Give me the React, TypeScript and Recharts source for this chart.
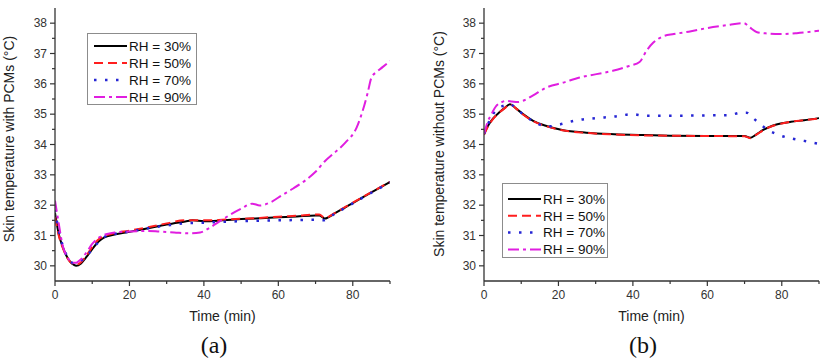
import React from "react";
import { LineChart, Line, XAxis, YAxis, Legend } from "recharts";

const SANS = "'Liberation Sans', Arial, Helvetica, sans-serif";
const SERIF = "'Liberation Serif', 'Times New Roman', serif";
const AXIS_COLOR = "#333333";

// (a) skin temperature with PCMs, time in min, temperature in °C
const timeA30 = [0, 1, 2, 3, 4, 5, 5.7, 7, 8.5, 10, 11.5, 12.5, 14, 16, 20, 25, 30, 35, 37, 40, 45, 50, 55, 60, 65, 70, 71, 72.5, 75, 78, 80, 85, 90];
const tempA30 = [31.75, 31.05, 30.65, 30.35, 30.15, 30.04, 30.0, 30.08, 30.3, 30.55, 30.78, 30.88, 30.97, 31.03, 31.12, 31.24, 31.36, 31.46, 31.5, 31.47, 31.5, 31.54, 31.57, 31.6, 31.63, 31.66, 31.66, 31.56, 31.72, 31.93, 32.07, 32.42, 32.76];

const timeA50 = [0, 1, 2, 3, 4, 5, 5.5, 7, 8.5, 10, 11.5, 13, 15, 20, 25, 30, 35, 40, 45, 50, 55, 60, 65, 70, 71, 72.5, 75, 78, 80, 85, 90];
const tempA50 = [31.6, 31.0, 30.62, 30.33, 30.14, 30.05, 30.03, 30.12, 30.35, 30.62, 30.85, 30.97, 31.05, 31.16, 31.27, 31.4, 31.5, 31.5, 31.52, 31.55, 31.58, 31.62, 31.65, 31.69, 31.69, 31.58, 31.73, 31.94, 32.08, 32.43, 32.77];

const timeA70 = [0, 1, 2, 3, 4, 5, 6, 7.5, 9, 10.5, 12, 14, 16, 20, 25, 30, 35, 40, 45, 50, 55, 60, 65, 70, 72, 75, 78, 80, 85, 90];
const tempA70 = [31.85, 31.15, 30.7, 30.38, 30.18, 30.08, 30.1, 30.22, 30.4, 30.62, 30.82, 31.0, 31.05, 31.13, 31.24, 31.33, 31.4, 31.42, 31.45, 31.47, 31.49, 31.5, 31.51, 31.52, 31.5, 31.7, 31.92, 32.06, 32.41, 32.75];

const timeA90 = [0, 1, 2, 3, 4, 5, 5.5, 7, 8.5, 10, 12, 14, 16, 20, 25, 28, 32, 36, 39, 41.5, 44, 47, 50, 53, 55, 58, 61, 64, 67.5, 70, 72.5, 75, 78, 81, 82.5, 84, 85, 86.5, 88, 90];
const tempA90 = [32.15, 31.4, 30.7, 30.35, 30.17, 30.1, 30.1, 30.22, 30.45, 30.72, 30.95, 31.05, 31.1, 31.13, 31.15, 31.13, 31.1, 31.07, 31.1, 31.25, 31.45, 31.68, 31.88, 32.05, 31.99, 32.1, 32.33, 32.55, 32.84, 33.1, 33.45, 33.72, 34.06, 34.55, 35.05, 35.7, 36.2, 36.4, 36.55, 36.75];

// (b) skin temperature without PCMs
const timeB30 = [0, 1, 2.4, 4.2, 5.5, 7, 8.5, 10.5, 13.2, 16.8, 21, 27.5, 35, 43, 50, 60, 70, 71.5, 73, 75, 77.5, 80, 82.5, 86, 90];
const tempB30 = [34.34, 34.6, 34.85, 35.07, 35.2, 35.33, 35.2, 35.0, 34.78, 34.61, 34.48, 34.39, 34.34, 34.31, 34.29, 34.28, 34.28, 34.22, 34.32, 34.48, 34.62, 34.7, 34.75, 34.8, 34.87];

const timeB50 = timeB30;
const tempB50 = [34.32, 34.58, 34.84, 35.06, 35.19, 35.32, 35.2, 34.99, 34.77, 34.6, 34.47, 34.38, 34.33, 34.3, 34.29, 34.28, 34.27, 34.21, 34.31, 34.47, 34.61, 34.69, 34.75, 34.8, 34.86];

const timeB70 = [0, 1, 2, 4, 6, 7, 8.5, 10.5, 13, 16, 18, 20, 25, 30, 35, 40, 43, 50, 60, 66, 69, 70.5, 72.5, 76, 79.5, 83, 86, 90];
const tempB70 = [34.35, 34.65, 34.92, 35.2, 35.3, 35.33, 35.2, 35.0, 34.78, 34.62, 34.6, 34.65, 34.8, 34.87, 34.92, 35.0, 34.95, 34.95, 34.96, 34.97, 35.05, 35.05, 34.85, 34.5, 34.3, 34.19, 34.12, 34.02];

const timeB90 = [0, 1, 2, 3.3, 4.5, 6, 7.5, 9, 10.5, 13.2, 16.8, 21.3, 25.7, 30.2, 34.6, 39, 41.8, 43.7, 45.5, 48, 51, 55, 60, 65, 69.8, 71.4, 73.2, 76, 79.5, 84, 90];
const tempB90 = [34.35, 34.75, 35.0, 35.27, 35.38, 35.44, 35.42, 35.4, 35.44, 35.62, 35.88, 36.04, 36.21, 36.32, 36.43, 36.59, 36.72, 37.1, 37.36, 37.56, 37.64, 37.72, 37.84, 37.93, 38.0, 37.86, 37.71, 37.66, 37.64, 37.67, 37.75];

const rhLabels = ["RH = 30%", "RH = 50%", "RH = 70%", "RH = 90%"];
const timeTicks = [0, 10, 20, 30, 40, 50, 60, 70, 80, 90];
const tempTicks = [30, 30.5, 31, 31.5, 32, 32.5, 33, 33.5, 34, 34.5, 35, 35.5, 36, 36.5, 37, 37.5, 38];

const STYLES = [
  { color: "#000000", dash: undefined, width: 2 },
  { color: "#ff1e1e", dash: "9 5", width: 2 },
  { color: "#2626d4", dash: "2.5 8.5", width: 2.5 },
  { color: "#e01ee0", dash: "11 4 3 4", width: 2 },
];

const toPoints = (t: number[], v: number[]) => t.map((time, i) => ({ time, temp: v[i] }));

const seriesA = [
  toPoints(timeA30, tempA30),
  toPoints(timeA50, tempA50),
  toPoints(timeA70, tempA70),
  toPoints(timeA90, tempA90),
];
const seriesB = [
  toPoints(timeB30, tempB30),
  toPoints(timeB50, tempB50),
  toPoints(timeB70, tempB70),
  toPoints(timeB90, tempB90),
];

// tickSize + tickMargin handed to every axis; the custom tick draws its own line
const TICK_SIZE = 6;
const TICK_MARGIN = 4;
const OFF = TICK_SIZE + TICK_MARGIN;

type Side = "bottom" | "top" | "left" | "right";

const makeTick = (side: Side, withLabel: boolean) => (props: any) => {
  const { x, y, payload } = props;
  const value = payload.value as number;
  const horizontal = side === "bottom" || side === "top";
  const major = horizontal ? value % 20 === 0 : Number.isInteger(value);
  const len = major ? 5 : 3;
  const textProps = { fontFamily: SANS, fontSize: 12, fill: AXIS_COLOR };
  if (side === "bottom") {
    const ay = y - OFF;
    return (
      <g>
        <line x1={x} x2={x} y1={ay} y2={ay + len} stroke={AXIS_COLOR} strokeWidth={1.2} />
        {withLabel && major && (
          <text x={x} y={ay + 9} dy="0.71em" textAnchor="middle" {...textProps}>
            {value}
          </text>
        )}
      </g>
    );
  }
  if (side === "top") {
    const ay = y + OFF;
    return <line x1={x} x2={x} y1={ay} y2={ay - len} stroke={AXIS_COLOR} strokeWidth={1.2} />;
  }
  if (side === "left") {
    const ax = x + OFF;
    return (
      <g>
        <line x1={ax} x2={ax - len} y1={y} y2={y} stroke={AXIS_COLOR} strokeWidth={1.2} />
        {withLabel && major && (
          <text x={ax - 8} y={y} dy="0.36em" textAnchor="end" {...textProps}>
            {value}
          </text>
        )}
      </g>
    );
  }
  const ax = x - OFF;
  return <line x1={ax} x2={ax + len} y1={y} y2={y} stroke={AXIS_COLOR} strokeWidth={1.2} />;
};

const axisLine = { stroke: AXIS_COLOR, strokeWidth: 1.3 };

type LegendBox = { left: number; top: number; width: number; height: number; row0: number; step: number; lineX: number };

const makeLegend = (box: LegendBox) => (props: any) => {
  const payload = props.payload || [];
  return (
    <svg width={box.width} height={box.height} style={{ display: "block", overflow: "visible" }}>
      <rect x={0.5} y={0.5} width={box.width - 1} height={box.height - 1} fill="#ffffff" stroke="#8c8c8c" strokeWidth={1} />
      {payload.map((entry: any, i: number) => {
        const cy = box.row0 + i * box.step;
        const style = STYLES[i];
        return (
          <g key={entry.value}>
            <line
              x1={box.lineX}
              x2={box.lineX + 33}
              y1={cy}
              y2={cy}
              stroke={entry.color}
              strokeWidth={style.width}
              strokeDasharray={style.dash}
            />
            <text x={box.lineX + 35} y={cy} dy="0.36em" fontFamily={SANS} fontSize={13.5} fill="#111111">
              {entry.value}
            </text>
          </g>
        );
      })}
    </svg>
  );
};

type PanelProps = {
  series: { time: number; temp: number }[][];
  yTitle: string;
  yTitleX: number;
  yTitleY: number;
  leftWidth: number;
  rightMargin: number;
  legend: LegendBox;
  caption: string;
  captionX: number;
};

function Panel({ series, yTitle, yTitleX, yTitleY, leftWidth, rightMargin, legend, caption, captionX }: PanelProps) {
  return (
    <div style={{ position: "relative", width: 412, height: 364 }}>
      <LineChart width={412} height={364} margin={{ top: 8, right: rightMargin, bottom: 0, left: 0 }}>
        <XAxis
          dataKey="time"
          type="number"
          domain={[0, 90]}
          allowDataOverflow
          ticks={timeTicks}
          interval={0}
          height={83}
          tickSize={TICK_SIZE}
          tickMargin={TICK_MARGIN}
          tickLine={false}
          axisLine={axisLine}
          tick={makeTick("bottom", true)}
          label={(p: any) => {
            const vb = p.viewBox || {};
            return (
              <text x={vb.x + vb.width / 2} y={vb.y + 40} textAnchor="middle" fontFamily={SANS} fontSize={14} fill="#222222">
                Time (min)
              </text>
            );
          }}
        />
        <XAxis
          xAxisId="top"
          orientation="top"
          type="number"
          domain={[0, 90]}
          allowDataOverflow
          ticks={timeTicks}
          interval={0}
          height={0}
          tickSize={TICK_SIZE}
          tickMargin={TICK_MARGIN}
          tickLine={false}
          axisLine={axisLine}
          tick={makeTick("top", false)}
        />
        <YAxis
          type="number"
          domain={[29.5, 38.5]}
          allowDataOverflow
          ticks={tempTicks}
          interval={0}
          width={leftWidth}
          tickSize={TICK_SIZE}
          tickMargin={TICK_MARGIN}
          tickLine={false}
          axisLine={axisLine}
          tick={makeTick("left", true)}
          label={() => (
            <text
              transform={`translate(${yTitleX}, ${yTitleY}) rotate(-90)`}
              textAnchor="middle"
              dominantBaseline="central"
              fontFamily={SANS}
              fontSize={14}
              fill="#222222"
            >
              {yTitle}
            </text>
          )}
        />
        <YAxis
          yAxisId="right"
          orientation="right"
          type="number"
          domain={[29.5, 38.5]}
          allowDataOverflow
          ticks={tempTicks}
          interval={0}
          width={0}
          tickSize={TICK_SIZE}
          tickMargin={TICK_MARGIN}
          tickLine={false}
          axisLine={axisLine}
          tick={makeTick("right", false)}
        />
        <Legend
          layout="horizontal"
          verticalAlign="middle"
          align="center"
          wrapperStyle={{ left: legend.left, top: legend.top, width: legend.width, height: legend.height }}
          content={makeLegend(legend)}
        />
        {series.map((points, i) => (
          <Line
            key={rhLabels[i]}
            name={rhLabels[i]}
            data={points}
            dataKey="temp"
            type="monotone"
            stroke={STYLES[i].color}
            strokeWidth={STYLES[i].width}
            strokeDasharray={STYLES[i].dash}
            dot={false}
            activeDot={false}
            isAnimationActive={false}
          />
        ))}
      </LineChart>
      <div
        style={{
          position: "absolute",
          left: captionX - 40,
          width: 80,
          top: 333,
          textAlign: "center",
          fontFamily: SERIF,
          fontSize: 24,
          lineHeight: "24px",
          color: "#111111",
        }}
      >
        {caption}
      </div>
    </div>
  );
}

export default function App() {
  return (
    <div
      style={{
        position: "absolute",
        left: 0,
        top: 0,
        width: 824,
        height: 364,
        display: "flex",
        background: "#ffffff",
      }}
    >
      <Panel
        series={seriesA}
        yTitle="Skin temperature with PCMs (°C)"
        yTitleX={9}
        yTitleY={139}
        leftWidth={55}
        rightMargin={22}
        legend={{ left: 87, top: 33, width: 110, height: 72, row0: 13, step: 17, lineX: 7 }}
        caption="(a)"
        captionX={214}
      />
      <Panel
        series={seriesB}
        yTitle="Skin temperature without PCMs (°C)"
        yTitleX={27}
        yTitleY={144}
        leftWidth={72}
        rightMargin={5}
        legend={{ left: 90, top: 183, width: 106, height: 75, row0: 16, step: 16.8, lineX: 6 }}
        caption="(b)"
        captionX={231}
      />
    </div>
  );
}
